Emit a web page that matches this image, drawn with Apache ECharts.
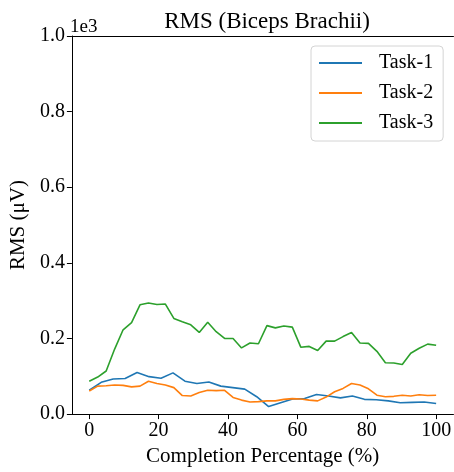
<!DOCTYPE html>
<html>
<head>
<meta charset="utf-8">
<script src="https://cdn.jsdelivr.net/npm/echarts@6/dist/echarts.min.js"></script>
<style>
  html, body { margin: 0; padding: 0; background: #fff; }
  #chart { width: 454px; height: 472px; }
</style>
</head>
<body>
<div id="chart"></div>
<script>
// RMS of the biceps brachii over task completion, three tasks.
// Task-1 is sampled at 30 points, Task-2 and Task-3 at 42 points.
const task1X = [0, 3.45, 6.9, 10.34, 13.79, 17.24, 20.69, 24.14, 27.59, 31.03,
  34.48, 37.93, 41.38, 44.83, 48.28, 51.72, 55.17, 58.62, 62.07, 65.52,
  68.97, 72.41, 75.86, 79.31, 82.76, 86.21, 89.66, 93.1, 96.55, 100];
const task1Y = [63, 84, 93, 94, 110, 99, 95, 109, 87, 81,
  85, 74, 70, 66, 46, 20, 30, 40, 41, 52,
  48, 43, 48, 39, 38, 35, 30, 31, 32, 28];

const task23X = [0, 2.44, 4.88, 7.32, 9.76, 12.2, 14.63, 17.07, 19.51, 21.95,
  24.39, 26.83, 29.27, 31.71, 34.15, 36.59, 39.02, 41.46, 43.9, 46.34,
  48.78, 51.22, 53.66, 56.1, 58.54, 60.98, 63.41, 65.85, 68.29, 70.73,
  73.17, 75.61, 78.05, 80.49, 82.93, 85.37, 87.8, 90.24, 92.68, 95.12,
  97.56, 100];
const task2Y = [61, 74, 75, 77, 76, 72, 74, 87, 81, 77,
  70, 49, 48, 57, 63, 62, 63, 44, 37, 32,
  33, 35, 35, 39, 41, 40, 37, 35, 45, 59,
  68, 81, 77, 67, 50, 46, 47, 50, 48, 51,
  49, 50];
const task3Y = [87, 98, 114, 172, 223, 242, 289, 294, 290, 291,
  253, 244, 236, 216, 243, 218, 200, 200, 175, 188,
  186, 234, 228, 233, 230, 177, 179, 168, 193, 193,
  205, 216, 188, 187, 166, 136, 135, 131, 161, 174,
  185, 182];

const seriesNames = ['Task-1', 'Task-2', 'Task-3'];
const seriesColors = ['#1f77b4', '#ff7f0e', '#2ca02c'];
const xTicks = [0, 20, 40, 60, 80, 100];

const pairs = (xs, ys) => xs.map((x, i) => [x, ys[i]]);

const FONT = '"Liberation Serif", "Times New Roman", serif';
const chart = echarts.init(document.getElementById('chart'), null, { renderer: 'canvas' });

const axisLine = { show: true, onZero: false, lineStyle: { color: '#000', width: 1 } };
const tickStyle = { color: '#000', width: 1 };
const nameStyle = { fontFamily: FONT, fontSize: 21, color: '#000' };
const labelStyle = { margin: 7, fontFamily: FONT, fontSize: 20, color: '#000' };

chart.setOption({
  animation: false,
  backgroundColor: '#fff',
  color: seriesColors,
  title: {
    text: 'RMS (Biceps Brachii)',
    left: 262,
    textAlign: 'center',
    top: 5,
    textStyle: { fontFamily: FONT, fontSize: 23, fontWeight: 'normal', color: '#000' }
  },
  grid: { left: 69, top: 36, width: 386, height: 381.5, containLabel: false },
  legend: {
    data: seriesNames,
    orient: 'vertical',
    left: 311,
    top: 46,
    padding: [7, 10, 8, 8],
    itemGap: 10,
    itemWidth: 43,
    itemHeight: 2,
    icon: 'rect',
    backgroundColor: 'rgba(255,255,255,0.8)',
    borderColor: '#d4d4d4',
    borderWidth: 1,
    borderRadius: 4,
    textStyle: { fontFamily: FONT, fontSize: 20, color: '#000', lineHeight: 20, padding: [0, 0, 0, 12] }
  },
  xAxis: [
    {
      type: 'value',
      min: -5,
      max: 105,
      name: 'Completion Percentage (%)',
      nameLocation: 'middle',
      nameGap: 28,
      nameTextStyle: nameStyle,
      axisLine: axisLine,
      splitLine: { show: false },
      axisTick: { show: true, length: 5, lineStyle: tickStyle, customValues: xTicks },
      axisLabel: Object.assign({ customValues: xTicks }, labelStyle)
    },
    {
      type: 'value', position: 'top', min: -5, max: 105,
      axisLine: axisLine,
      axisTick: { show: false }, axisLabel: { show: false }, splitLine: { show: false }
    }
  ],
  yAxis: {
    type: 'value',
    min: 0,
    max: 1000,
    interval: 200,
    name: 'RMS (μV)',
    nameLocation: 'middle',
    nameRotate: 90,
    nameGap: 40,
    nameTextStyle: nameStyle,
    axisLine: axisLine,
    splitLine: { show: false },
    axisTick: { show: true, length: 5, lineStyle: tickStyle },
    axisLabel: Object.assign({ formatter: v => (v / 1000).toFixed(1) }, labelStyle)
  },
  graphic: [{
    type: 'text',
    left: 70,
    top: 18,
    style: { text: '1e3', font: '19px ' + FONT, fill: '#000' }
  }],
  series: [
    { name: seriesNames[0], type: 'line', data: pairs(task1X, task1Y) },
    { name: seriesNames[1], type: 'line', data: pairs(task23X, task2Y) },
    { name: seriesNames[2], type: 'line', data: pairs(task23X, task3Y) }
  ].map(s => Object.assign(s, {
    symbol: 'none',
    lineStyle: { width: 1.6 },
    emphasis: { disabled: true }
  }))
});
</script>
</body>
</html>
